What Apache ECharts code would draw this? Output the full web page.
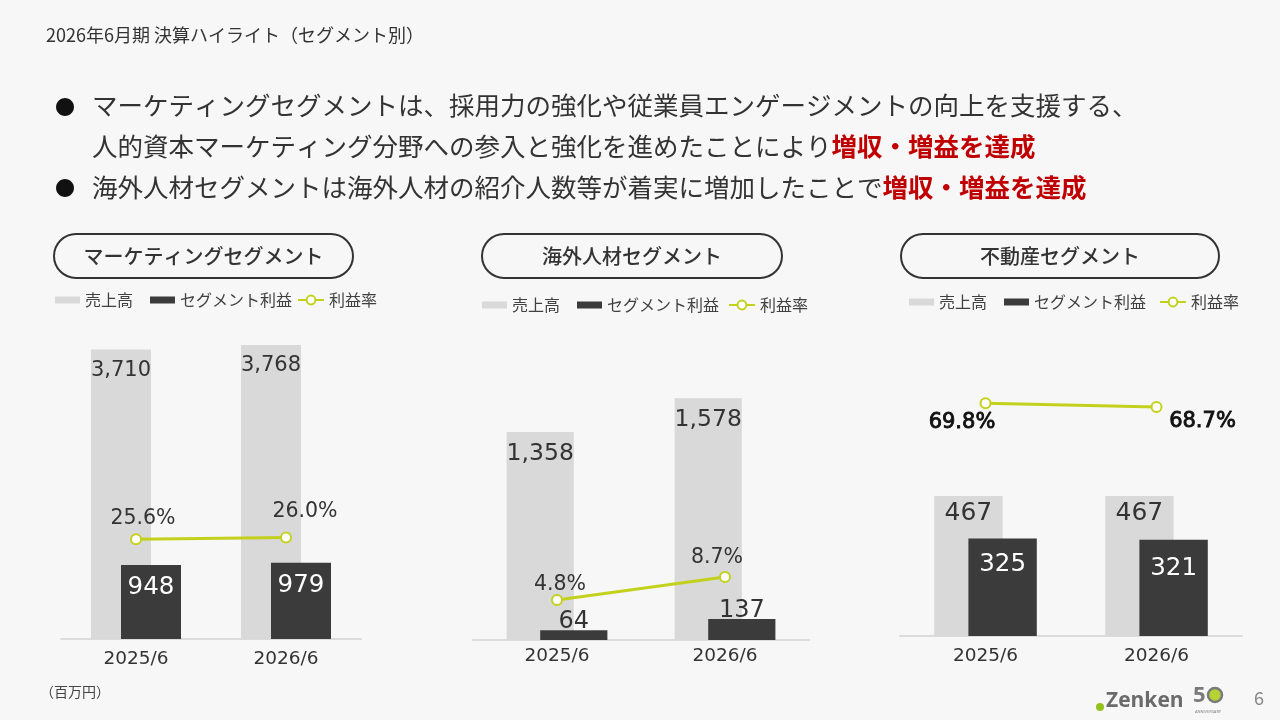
<!DOCTYPE html>
<html>
<head>
<meta charset="utf-8">
<script src="https://cdn.jsdelivr.net/npm/echarts@6/dist/echarts.min.js"></script>
<style>
html,body{margin:0;padding:0;background:#f7f7f7;}
#c{width:1280px;height:720px;}
</style>
</head>
<body>
<div id="c"></div>
<script>
// ---- data ----
const categories = ['2025/6', '2026/6'];
const seriesNames = ['売上高', 'セグメント利益', '利益率'];
const segmentNames = ['マーケティングセグメント', '海外人材セグメント', '不動産セグメント'];
const mktSales = [3710, 3768];
const mktProfit = [948, 979];
const mktMargin = [25.6, 26.0];
const gjSales = [1358, 1578];
const gjProfit = [64, 137];
const gjMargin = [4.8, 8.7];
const reSales = [467, 467];
const reProfit = [325, 321];
const reMargin = [69.8, 68.7];
const pageTitle = '2026年6月期 決算ハイライト（セグメント別）';
const bullet1a = 'マーケティングセグメントは、採用力の強化や従業員エンゲージメントの向上を支援する、';
const bullet1b = '人的資本マーケティング分野への参入と強化を進めたことにより';
const bullet2 = '海外人材セグメントは海外人材の紹介人数等が着実に増加したことで';
const highlight = '増収・増益を達成';
const unitNote = '（百万円）';
const pageNo = '6';

// ---- styles / layout ----
const FONT = "'Noto Sans CJK JP','Noto Sans',sans-serif";
const NUMFONT = "'DejaVu Sans',sans-serif";
const C_SALES = '#d9d9d9', C_PROFIT = '#3b3b3b', C_LINE = '#c3d11c', C_TEXT = '#333333';

const panels = [
  { sales: mktSales, profit: mktProfit, margin: mktMargin,
    grid: {left: 61, top: 327, width: 300, height: 312}, max: 4000, mMin: 0, mMax: 80, labelMargin: 11,
    pill: {x: 54, y: 234, w: 299}, legBar: 55, legLine: 297, legTop: 292,
    sl: {fontSize: 21, distance: 10},
    pl: {position: 'insideTop', fontSize: 24.5, distance: 10.5, color: '#ffffff', offsets: [[0,0],[0,0]]},
    ml: {position: 'top', fontSize: 20.5, color: '#333', bold: false, offsets: [[7,1],[19,-4]]} },
  { sales: gjSales, profit: gjProfit, margin: gjMargin,
    grid: {left: 473, top: 333.6, width: 336, height: 306.4}, max: 2000, mMin: -2, mMax: 50, labelMargin: 7,
    pill: {x: 482, y: 234, w: 300}, legBar: 482, legLine: 728, legTop: 297,
    sl: {fontSize: 23.5, distance: 10},
    pl: {position: 'top', fontSize: 24, distance: -3.5, color: '#333', offsets: [[0,0],[0,0]]},
    ml: {position: 'top', fontSize: 20.5, color: '#333', bold: false, offsets: [[3,6.5],[-8,2.5]]} },
  { sales: reSales, profit: reProfit, margin: reMargin,
    grid: {left: 900, top: 336, width: 342, height: 300}, max: 1000, mMin: 0, mMax: 90, labelMargin: 11,
    pill: {x: 901, y: 234, w: 318}, legBar: 909, legLine: 1159, legTop: 294,
    sl: {fontSize: 25, distance: 5.5},
    pl: {position: 'insideTop', fontSize: 24.5, distance: 13.5, color: '#ffffff', offsets: [[0,0],[0,3]]},
    ml: {position: 'bottom', fontSize: 21, color: '#111', bold: true, offsets: [[-23.5,-2],[46,-7]]} }
];

const grids = [], xAxes = [], yAxes = [], series = [], legends = [], graphics = [];

panels.forEach((p, i) => {
  grids.push(Object.assign({containLabel: false}, p.grid));
  xAxes.push({
    gridIndex: i, type: 'category', data: categories,
    axisLine: {lineStyle: {color: '#dcdcdc', width: 2}},
    axisTick: {show: false},
    axisLabel: {fontSize: 18.5, color: C_TEXT, fontFamily: NUMFONT, margin: p.labelMargin}
  });
  yAxes.push({gridIndex: i, type: 'value', min: 0, max: p.max, show: false});
  yAxes.push({gridIndex: i, type: 'value', min: p.mMin, max: p.mMax, show: false});

  series.push({
    name: seriesNames[0], type: 'bar', xAxisIndex: i, yAxisIndex: 2 * i,
    barWidth: '40%', barGap: '-50%', data: p.sales,
    itemStyle: {color: C_SALES},
    label: {show: true, position: 'insideTop', distance: p.sl.distance, fontSize: p.sl.fontSize,
      color: C_TEXT, fontFamily: NUMFONT, formatter: d => d.value.toLocaleString('en-US')}
  });
  series.push({
    name: seriesNames[1], type: 'bar', xAxisIndex: i, yAxisIndex: 2 * i,
    barWidth: '40%', barGap: '-50%',
    data: p.profit.map((v, k) => ({value: v, label: {offset: p.pl.offsets[k]}})),
    itemStyle: {color: C_PROFIT},
    label: {show: true, position: p.pl.position, distance: p.pl.distance, fontSize: p.pl.fontSize,
      color: p.pl.color, fontFamily: NUMFONT, formatter: d => d.value.toLocaleString('en-US')}
  });
  const ml = {show: true, position: p.ml.position, fontSize: p.ml.fontSize, color: p.ml.color,
      fontFamily: NUMFONT, formatter: d => d.value.toFixed(1) + '%'};
  if (p.ml.bold) { ml.textBorderColor = p.ml.color; ml.textBorderWidth = 0.9; }
  series.push({
    name: seriesNames[2], type: 'line', xAxisIndex: i, yAxisIndex: 2 * i + 1,
    data: p.margin.map((v, k) => ({value: v, label: {offset: p.ml.offsets[k]}})),
    symbol: 'emptyCircle', symbolSize: 10, z: 10,
    lineStyle: {color: C_LINE, width: 3},
    itemStyle: {color: C_LINE, borderWidth: 3},
    label: ml
  });

  legends.push({
    data: [seriesNames[0], seriesNames[1]], left: p.legBar, top: p.legTop, padding: 0,
    icon: 'rect', itemWidth: 25, itemHeight: 7, itemGap: 17, selectedMode: false,
    textStyle: {fontSize: 16, color: '#404040', fontFamily: FONT, lineHeight: 16}
  });
  legends.push({
    data: [seriesNames[2]], left: p.legLine, top: p.legTop, padding: 0,
    itemWidth: 26, itemHeight: 11, selectedMode: false,
    textStyle: {fontSize: 16, color: '#404040', fontFamily: FONT, lineHeight: 16}
  });

  graphics.push({
    type: 'rect', shape: {x: p.pill.x, y: p.pill.y, width: p.pill.w, height: 44, r: 22},
    style: {fill: 'none', stroke: '#333', lineWidth: 2}
  });
  graphics.push({
    type: 'text', x: p.pill.x + p.pill.w / 2, y: p.pill.y + 22,
    style: {text: segmentNames[i], fill: C_TEXT, fontSize: 20, fontWeight: 500, fontFamily: FONT,
      align: 'center', verticalAlign: 'middle'}
  });
});

// header texts
graphics.push({type: 'text', x: 46, y: 35,
  style: {text: pageTitle, fill: C_TEXT, fontSize: 18, fontFamily: FONT, verticalAlign: 'middle'}});
const richStyles = {
  n: {fill: C_TEXT, fontSize: 25.5, fontFamily: FONT},
  r: {fill: '#c00000', fontSize: 25.5, fontFamily: FONT, fontWeight: 'bold'}
};
[[107, '●'], [188, '●']].forEach(b => graphics.push({type: 'text', x: 65, y: b[0],
  style: {text: b[1], fill: '#111', fontSize: 20, fontFamily: FONT, align: 'center', verticalAlign: 'middle'}}));
graphics.push({type: 'text', x: 92, y: 105,
  style: {text: '{n|' + bullet1a + '}', rich: richStyles, verticalAlign: 'middle'}});
graphics.push({type: 'text', x: 92, y: 146,
  style: {text: '{n|' + bullet1b + '}{r|' + highlight + '}', rich: richStyles, verticalAlign: 'middle'}});
graphics.push({type: 'text', x: 92, y: 187,
  style: {text: '{n|' + bullet2 + '}{r|' + highlight + '}', rich: richStyles, verticalAlign: 'middle'}});

// footer
graphics.push({type: 'text', x: 40, y: 692,
  style: {text: unitNote, fill: '#444', fontSize: 14, fontFamily: FONT, verticalAlign: 'middle'}});
graphics.push({type: 'circle', shape: {cx: 1100, cy: 707, r: 4}, style: {fill: '#95c11f'}});
graphics.push({type: 'text', x: 1106, y: 701,
  style: {text: 'Zenken', fill: '#6b6b6b', fontSize: 21, fontWeight: 'bold', fontFamily: "'Open Sans',sans-serif", verticalAlign: 'middle'}});
graphics.push({type: 'text', x: 1193, y: 696,
  style: {text: '5', fill: '#7a7a7a', fontSize: 22, fontWeight: 'bold', fontFamily: "'Open Sans',sans-serif", verticalAlign: 'middle'}});
graphics.push({type: 'circle', shape: {cx: 1215, cy: 695, r: 7}, style: {fill: '#b5d334', stroke: '#7a7a7a', lineWidth: 2.5}});
graphics.push({type: 'text', x: 1208, y: 712,
  style: {text: 'ANNIVERSARY', fill: '#7a7a7a', fontSize: 4, fontFamily: "'Open Sans',sans-serif", align: 'center', verticalAlign: 'middle'}});
graphics.push({type: 'text', x: 1259, y: 698,
  style: {text: pageNo, fill: '#888', fontSize: 18, fontFamily: FONT, align: 'center', verticalAlign: 'middle'}});

const chart = echarts.init(document.getElementById('c'));
chart.setOption({
  backgroundColor: '#f7f7f7',
  animation: false,
  textStyle: {fontFamily: FONT},
  grid: grids, xAxis: xAxes, yAxis: yAxes, series: series, legend: legends, graphic: graphics
});
</script>
</body>
</html>
